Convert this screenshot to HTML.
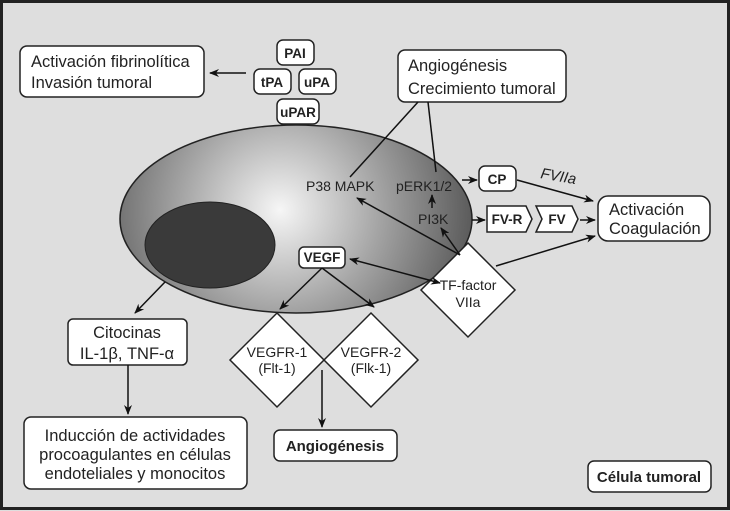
<!DOCTYPE html>
<html><head><meta charset="utf-8"><style>
html,body{margin:0;padding:0;background:#dedede}
svg{display:block}
text{font-family:"Liberation Sans",sans-serif;fill:#222}
.b{font-weight:bold;font-family:"Liberation Sans Narrow","Liberation Sans",sans-serif}
</style></head><body>
<svg width="730" height="511" viewBox="0 0 730 511" xmlns="http://www.w3.org/2000/svg">
<defs>
<radialGradient id="g" cx="280" cy="210" r="200" gradientUnits="userSpaceOnUse">
<stop offset="0" stop-color="#f6f6f6"/><stop offset="0.5" stop-color="#a4a4a4"/><stop offset="1" stop-color="#555"/>
</radialGradient>
<marker id="a" markerWidth="10" markerHeight="8" refX="9" refY="4" orient="auto" markerUnits="userSpaceOnUse"><path d="M0,0 L10,4 L0,8 L3,4z" fill="#111"/></marker>
<marker id="s" markerWidth="10" markerHeight="8" refX="1" refY="4" orient="auto" markerUnits="userSpaceOnUse"><path d="M10,0 L0,4 L10,8 L7,4z" fill="#111"/></marker>
</defs>
<rect x="1.5" y="1.5" width="727" height="507" fill="#dedede" stroke="#222" stroke-width="3"/>
<ellipse cx="296" cy="219" rx="176" ry="94" fill="url(#g)" stroke="#222" stroke-width="1.5"/>
<ellipse cx="210" cy="245" rx="65" ry="43" fill="#3a3a3a" stroke="#222"/>
<g fill="#fff" stroke="#222" stroke-width="1.5">
<rect x="20" y="46" width="184" height="51" rx="7"/>
<rect x="277" y="40" width="37" height="25" rx="6"/>
<rect x="254" y="69" width="37" height="25" rx="6"/>
<rect x="299" y="69" width="37" height="25" rx="6"/>
<rect x="277" y="99" width="42" height="25" rx="6"/>
<rect x="398" y="50" width="168" height="52" rx="7"/>
<rect x="479" y="166" width="37" height="25" rx="6"/>
<path d="M487,206 H526 L532,219 L526,232 H487z"/>
<path d="M536,206 H572 L578,219 L572,232 H536 L542,219z"/>
<rect x="598" y="196" width="112" height="45" rx="10"/>
<rect x="299" y="247" width="46" height="21" rx="5"/>
<path d="M468,243 L515,290 L468,337 L421,290z"/>
<path d="M277,313 L324,360 L277,407 L230,360z"/>
<path d="M371,313 L418,360 L371,407 L324,360z"/>
<rect x="68" y="319" width="119" height="46" rx="5"/>
<rect x="24" y="417" width="223" height="72" rx="7"/>
<rect x="274" y="430" width="123" height="31" rx="6"/>
<rect x="588" y="461" width="123" height="31" rx="6"/>
</g>
<g stroke="#111" stroke-width="1.5" fill="none">
<line x1="246" y1="73" x2="210" y2="73" marker-end="url(#a)"/>
<line x1="418" y1="102" x2="350" y2="177"/>
<line x1="428" y1="102" x2="436" y2="172"/>
<line x1="462" y1="180" x2="477" y2="180" marker-end="url(#a)"/>
<line x1="517" y1="180" x2="593" y2="201" marker-end="url(#a)"/>
<line x1="472" y1="220" x2="485" y2="220" marker-end="url(#a)"/>
<line x1="580" y1="220" x2="595" y2="220" marker-end="url(#a)"/>
<line x1="496" y1="266" x2="595" y2="236" marker-end="url(#a)"/>
<line x1="432" y1="208" x2="432" y2="195" marker-end="url(#a)"/>
<line x1="460" y1="255" x2="357" y2="198" marker-end="url(#a)"/>
<line x1="460" y1="255" x2="441" y2="228" marker-end="url(#a)"/>
<line x1="350" y1="259" x2="440" y2="283" marker-start="url(#s)" marker-end="url(#a)"/>
<line x1="322" y1="268" x2="280" y2="309" marker-end="url(#a)"/>
<line x1="322" y1="268" x2="374" y2="307" marker-end="url(#a)"/>
<line x1="165" y1="282" x2="135" y2="313" marker-end="url(#a)"/>
<line x1="128" y1="365" x2="128" y2="414" marker-end="url(#a)"/>
<line x1="322" y1="370" x2="322" y2="427" marker-end="url(#a)"/>
</g>
<g font-size="16.5">
<text x="31" y="67">Activación fibrinolítica</text>
<text x="31" y="88">Invasión tumoral</text>
<text x="408" y="71">Angiogénesis</text>
<text x="408" y="94">Crecimiento tumoral</text>
<text x="609" y="215">Activación</text>
<text x="609" y="234">Coagulación</text>
<text x="127" y="338" text-anchor="middle">Citocinas</text>
<text x="127" y="359" text-anchor="middle">IL-1β, TNF-α</text>
<text x="135" y="441" text-anchor="middle">Inducción de actividades</text>
<text x="135" y="460" text-anchor="middle">procoagulantes en células</text>
<text x="135" y="479" text-anchor="middle">endoteliales y monocitos</text>
</g>
<g font-size="14">
<text x="306" y="191" fill="#444">P38 MAPK</text>
<text x="396" y="191" fill="#444">pERK1/2</text>
<text x="418" y="224" fill="#444">PI3K</text>
<text x="468" y="290" text-anchor="middle">TF-factor</text>
<text x="468" y="307" text-anchor="middle">VIIa</text>
<text x="277" y="357" text-anchor="middle">VEGFR-1</text>
<text x="277" y="373" text-anchor="middle">(Flt-1)</text>
<text x="371" y="357" text-anchor="middle">VEGFR-2</text>
<text x="371" y="373" text-anchor="middle">(Flk-1)</text>
<text x="540" y="178" font-style="italic" font-size="15" transform="rotate(10 540 178)">FVIIa</text>
</g>
<g font-size="13.5">
<text class="b" x="295" y="58" text-anchor="middle">PAI</text>
<text class="b" x="272" y="87" text-anchor="middle">tPA</text>
<text class="b" x="317" y="87" text-anchor="middle">uPA</text>
<text class="b" x="298" y="117" text-anchor="middle">uPAR</text>
<text class="b" x="497" y="184" text-anchor="middle">CP</text>
<text class="b" x="507" y="224" text-anchor="middle">FV-R</text>
<text class="b" x="557" y="224" text-anchor="middle">FV</text>
<text class="b" x="322" y="262" text-anchor="middle">VEGF</text>
<text class="b" x="335" y="451" text-anchor="middle" font-size="15">Angiogénesis</text>
<text class="b" x="649" y="482" text-anchor="middle" font-size="15">Célula tumoral</text>
</g>
</svg>
</body></html>
